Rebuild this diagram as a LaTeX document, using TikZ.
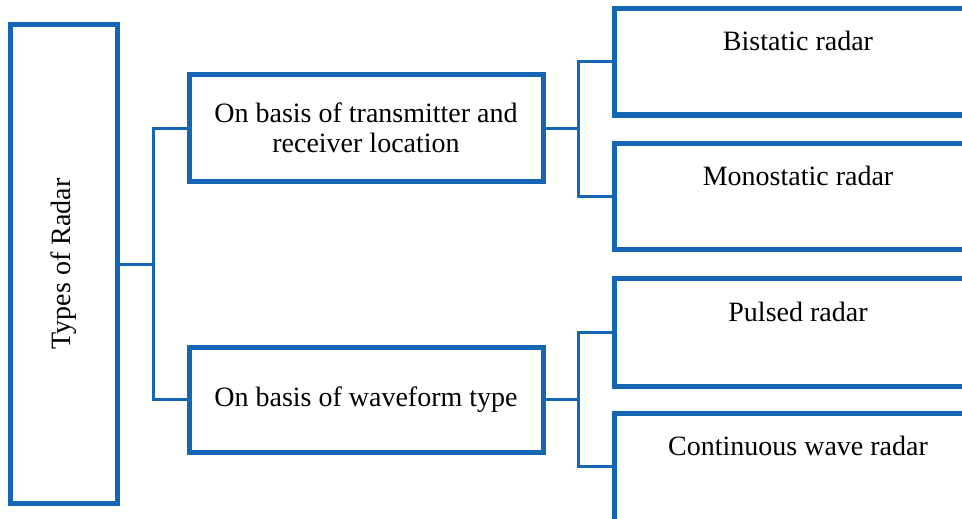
\documentclass[tikz,border=0pt]{standalone}
\usepackage{fontspec}
\setmainfont{Liberation Serif}
\definecolor{rblue}{HTML}{1566B4}
\begin{document}
\begin{tikzpicture}[x=1pt,y=-1pt,
  box/.style={draw=rblue,line width=5pt,rectangle,inner sep=0pt,outer sep=0pt},
  conn/.style={draw=rblue,line width=3pt},
  txt/.style={font=\fontsize{28}{30.5}\selectfont,text=black,inner sep=0pt}]
\clip (0,0) rectangle (962,519);
\fill[white] (0,0) rectangle (962,519);
% left box
\node[box,minimum width=106.5pt,minimum height=478.5pt] (L) at (64,264) {};
\node[txt,rotate=90] (Lt) at (L.center) {Types of Radar};
% middle boxes
\node[box,minimum width=354pt,minimum height=106pt] (M1) at (366,128) {};
\node[txt,align=center] (M1t) at (M1.center) {On basis of transmitter and\\receiver location};
\node[box,minimum width=354pt,minimum height=105pt] (M2) at (366,399.5) {};
\node[txt] (M2t) at (M2.center) {On basis of waveform type};
% right boxes
\node[box,minimum width=368pt,minimum height=106pt] (R1) at (798,62) {};
\node[box,minimum width=368pt,minimum height=106pt] (R2) at (798,196) {};
\node[box,minimum width=368pt,minimum height=108pt] (R3) at (798,332) {};
\node[box,minimum width=368pt,minimum height=112pt] (R4) at (798,469) {};
\node[txt,anchor=base] (R1t) at ([yshift=-42pt]R1.north) {Bistatic radar};
\node[txt,anchor=base] (R2t) at ([yshift=-42pt]R2.north) {Monostatic radar};
\node[txt,anchor=base] (R3t) at ([yshift=-43pt]R3.north) {Pulsed radar};
\node[txt,anchor=base] (R4t) at ([yshift=-42pt]R4.north) {Continuous wave radar};
% connectors
\coordinate (j1) at (153,264);
\draw[conn] (L.east) -- (j1);
\draw[conn] (M1.west) -| (j1) |- (M2.west);
\coordinate (j2) at (578,128);
\draw[conn] (M1.east) -- (j2);
\draw[conn] (R1.west) -| (j2) |- (R2.west);
\coordinate (j3) at (578,399.5);
\draw[conn] (M2.east) -- (j3);
\draw[conn] (R3.west) -| (j3) |- (R4.west |- 0,466);
\end{tikzpicture}
\end{document}
